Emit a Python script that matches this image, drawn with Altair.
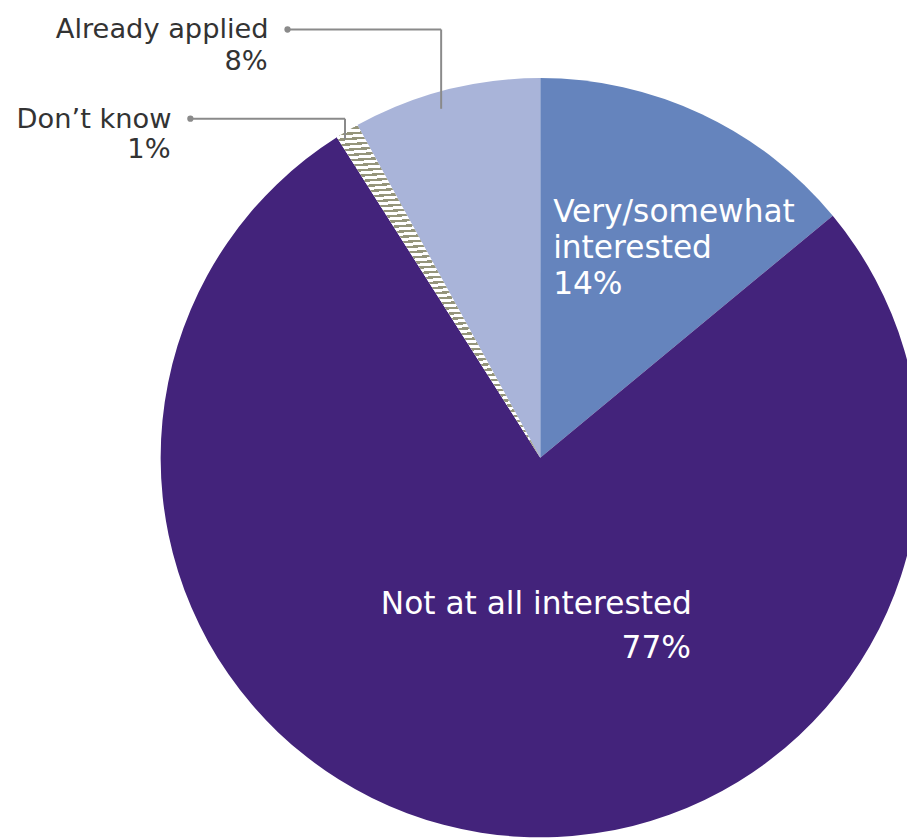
import altair as alt
import pandas as pd

# ---- data ----
categories = ["Very/somewhat interested", "Not at all interested", "Don’t know", "Already applied"]
values = [14, 77, 1, 8]
pct_labels = ["14%", "77%", "1%", "8%"]
colors = ["#6584bd", "#43237b", "#ffffff", "#a9b4d9"]

df = pd.DataFrame({"category": categories, "value": values,
                   "order": list(range(len(categories))), "pct": pct_labels})

# ---- layout (svg coordinates; page adds 8px margin) ----
W, H = 907, 831
CX, CY, R = 537, 450, 383
FONT = "DejaVu Sans"
INNER_SIZE = 31.5
OUTER_SIZE = 27.5
LEADER = "#8a8a8a"
DARK = "#333333"

base = alt.Chart(df).transform_stack(
    stack="value", groupby=[], as_=["start", "end"],
    sort=[alt.SortField("order", order="ascending")]
)

theta = alt.Theta("start:Q", scale=alt.Scale(domain=[0, 100]))
theta2 = alt.Theta2("end:Q")

pie = base.mark_arc(outerRadius=R).encode(
    theta=theta, theta2=theta2,
    color=alt.Color("category:N", scale=alt.Scale(domain=categories, range=colors), legend=None),
    x=alt.value(CX), y=alt.value(CY),
)

# hatched fill for "Don't know" via a striped linear gradient
n_stripes = 62
stops = []
for i in range(n_stripes):
    a = i / n_stripes
    b = (i + 0.55) / n_stripes
    c = (i + 1) / n_stripes
    stops += [alt.GradientStop(offset=a, color="#ffffff"),
              alt.GradientStop(offset=b, color="#ffffff"),
              alt.GradientStop(offset=b, color="#95957b"),
              alt.GradientStop(offset=c, color="#95957b")]
hatch_fill = alt.LinearGradient(gradient="linear", stops=stops, x1=0, y1=0, x2=0.05, y2=1)

hatch = base.transform_filter(alt.datum.category == categories[2]).mark_arc(
    outerRadius=R, fill=hatch_fill
).encode(theta=theta, theta2=theta2, x=alt.value(CX), y=alt.value(CY))


def text_layer(txt, x, y, align, color, size):
    return alt.Chart(pd.DataFrame({"t": [txt]})).mark_text(
        align=align, baseline="alphabetic", font=FONT, fontSize=size, color=color
    ).encode(text="t:N", x=alt.value(x), y=alt.value(y))


one = pd.DataFrame({"k": [0]})


def hrule(x1, x2, y):
    return alt.Chart(one).mark_rule(color=LEADER, strokeWidth=2).encode(
        x=alt.value(x1), x2=alt.value(x2), y=alt.value(y))


def vrule(x, y1, y2):
    return alt.Chart(one).mark_rule(color=LEADER, strokeWidth=2).encode(
        x=alt.value(x), y=alt.value(y1), y2=alt.value(y2))


def dot(x, y):
    return alt.Chart(one).mark_circle(color=LEADER, size=40, opacity=1).encode(
        x=alt.value(x), y=alt.value(y))


layers = [
    pie, hatch,
    # inner labels
    text_layer("Very/somewhat", 550, 212, "left", "white", INNER_SIZE),
    text_layer("interested", 550, 249, "left", "white", INNER_SIZE),
    text_layer(pct_labels[0], 550, 285, "left", "white", INNER_SIZE),
    text_layer(categories[1], 690, 608, "right", "white", INNER_SIZE),
    text_layer(pct_labels[1], 689, 652, "right", "white", INNER_SIZE),
    # outer labels
    text_layer(categories[3], 263, 27, "right", DARK, OUTER_SIZE),
    text_layer(pct_labels[3], 262, 59, "right", DARK, OUTER_SIZE),
    text_layer(categories[2], 165, 117, "right", DARK, OUTER_SIZE),
    text_layer(pct_labels[2], 164, 148, "right", DARK, OUTER_SIZE),
    # leaders
    hrule(282, 437, 18), vrule(437, 18, 98), dot(282, 18),
    hrule(184, 340, 108), vrule(340, 108, 129), dot(184, 108),
]

chart = alt.layer(*layers).properties(
    width=W, height=H, autosize=alt.AutoSizeParams(type="none"), padding=0
).configure_view(stroke=None)

chart.save("out.html", embed_options={"renderer": "svg", "actions": False})
